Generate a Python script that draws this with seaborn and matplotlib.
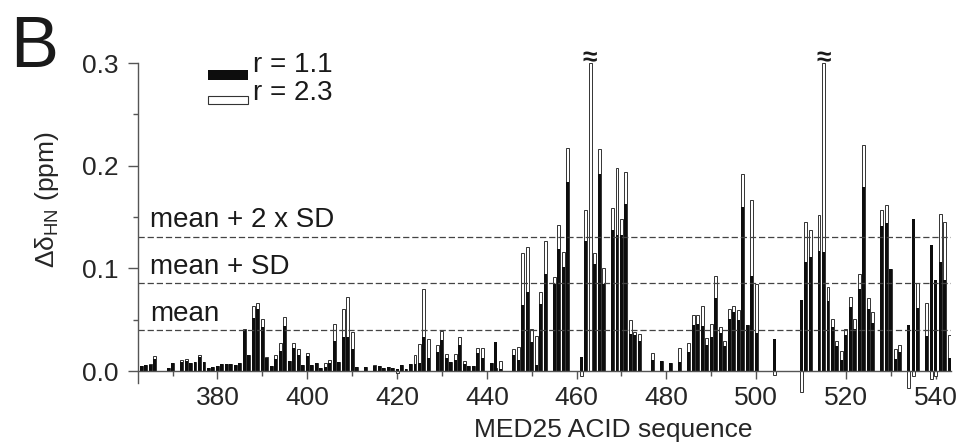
import numpy as np
import pandas as pd
import matplotlib
matplotlib.use("Agg")
import matplotlib.pyplot as plt
from matplotlib.ticker import MultipleLocator, FormatStrFormatter
from matplotlib.patches import Rectangle
import seaborn as sns

nan = np.nan

# residues of the MED25 ACID construct
residues = np.arange(363, 544)

# chemical shift perturbation, r = 1.1 (black) and r = 2.3 (open)
r11 = [
    0.005, 0.006, 0.006, 0.012, nan, nan, 0.003, 0.008, nan, 0.009,
    0.010, 0.008, 0.009, 0.014, 0.009, 0.003, 0.004, 0.005, 0.007, 0.007,
    0.007, 0.006, 0.008, 0.040, 0.016, 0.052, 0.060, 0.043, 0.013, 0.005,
    0.012, 0.020, 0.044, 0.010, 0.022, 0.016, 0.006, 0.015, 0.006, 0.0075,
    0.003, 0.004, 0.0075, 0.029, 0.009, 0.033, 0.033, 0.021, 0.004, nan,
    0.004, nan, 0.005, 0.005, 0.003, 0.004, 0.003, 0.002, 0.006, 0.002,
    0.007, 0.007, 0.008, 0.033, 0.013, nan, 0.019, 0.030, 0.013, 0.009,
    0.011, 0.025, 0.007, 0.005, 0.005, 0.018, 0.013, nan, 0.008, 0.028,
    0.002, nan, nan, 0.016, 0.011, 0.064, 0.077, 0.028, 0.006, 0.065,
    0.095, nan, 0.085, 0.119, 0.101, 0.184, nan, nan, 0.014, 0.127,
    nan, 0.104, 0.192, 0.085, nan, 0.137, 0.133, 0.133, 0.163, 0.036,
    0.035, 0.029, nan, nan, 0.011, nan, 0.010, nan, 0.0075, nan,
    0.009, nan, 0.019, 0.045, 0.046, 0.044, 0.025, 0.033, 0.071, 0.037,
    0.024, 0.051, 0.058, 0.050, 0.160, 0.045, 0.093, 0.037, nan, nan,
    nan, 0.031, nan, nan, nan, nan, nan, 0.069, 0.106, 0.111,
    nan, 0.117, 0.116, 0.068, 0.043, 0.024, 0.011, 0.035, 0.062, 0.041,
    0.080, 0.179, 0.060, 0.047, nan, 0.141, 0.144, 0.099, 0.012, 0.019,
    nan, 0.045, 0.148, 0.061, nan, 0.034, 0.123, 0.089, 0.106, 0.089, 0.013,
]
r23 = [
    0.005, 0.006, 0.007, 0.015, nan, nan, 0.003, 0.008, nan, 0.011,
    0.012, 0.008, 0.009, 0.016, 0.009, 0.003, 0.004, 0.005, 0.007, 0.007,
    0.007, 0.006, 0.008, 0.041, 0.016, 0.063, 0.066, 0.051, 0.014, 0.005,
    0.016, 0.027, 0.053, 0.010, 0.027, 0.021, 0.006, 0.018, 0.006, 0.0075,
    0.003, 0.008, 0.011, 0.046, 0.009, 0.060, 0.072, 0.038, 0.004, nan,
    0.004, nan, 0.006, 0.005, 0.003, 0.004, 0.003, -0.002, 0.006, 0.002,
    0.007, 0.016, 0.026, 0.080, 0.031, nan, 0.025, 0.039, 0.017, 0.009,
    0.017, 0.033, 0.010, 0.005, 0.005, 0.022, 0.022, nan, 0.008, 0.003,
    0.010, nan, nan, 0.021, 0.023, 0.115, 0.121, 0.041, 0.034, 0.077,
    0.127, nan, 0.092, 0.142, 0.116, 0.217, nan, nan, -0.005, 0.157,
    0.300, 0.115, 0.216, 0.100, nan, 0.159, 0.198, 0.148, 0.194, 0.050,
    0.038, 0.036, nan, nan, 0.018, nan, 0.010, nan, 0.0075, nan,
    0.022, nan, 0.027, 0.055, 0.055, 0.063, 0.032, 0.046, 0.093, 0.043,
    0.029, 0.060, 0.063, 0.059, 0.192, 0.045, 0.167, 0.085, nan, nan,
    nan, -0.004, nan, nan, nan, nan, nan, -0.020, 0.145, 0.137,
    nan, 0.152, 0.300, 0.082, 0.051, 0.029, 0.020, 0.041, 0.072, 0.051,
    0.095, 0.220, 0.071, 0.058, nan, 0.157, 0.162, 0.099, 0.021, 0.025,
    nan, -0.017, -0.005, 0.086, nan, 0.066, -0.008, -0.005, 0.153, 0.145, 0.035,
]

# residues whose r = 2.3 shift runs off the scale
broken = [463, 515]

# threshold lines
mean_csp = 0.040
sd_csp = 0.0455
thresholds = [mean_csp, mean_csp + sd_csp, mean_csp + 2 * sd_csp]
threshold_labels = ["mean", "mean + SD", "mean + 2 x SD"]

# ---------------------------------------------------------------------------

sns.set_theme(style="white")
plt.rcParams["font.family"] = ["Liberation Sans", "DejaVu Sans"]
plt.rcParams["mathtext.fontset"] = "custom"
plt.rcParams["mathtext.rm"] = "Liberation Sans"
plt.rcParams["text.color"] = "#1a1a1a"

FS = 19       # tick labels / axis labels
FS_TXT = 20   # annotations and legend
AX_COL = "#555555"

df = pd.DataFrame({"residue": residues, "r11": r11, "r23": r23})
d23 = df.dropna(subset=["r23"])
d11 = df.dropna(subset=["r11"])

fig = plt.figure(figsize=(9.68, 4.48), dpi=100)
ax = fig.add_axes([138 / 968, 0.1145, 813 / 968, 0.7449])

sns.barplot(data=d23, x="residue", y="r23", native_scale=True, width=0.66,
            color="white", saturation=1, edgecolor="#333333", linewidth=0.7,
            errorbar=None, ax=ax)
sns.barplot(data=d11, x="residue", y="r11", native_scale=True, width=0.66,
            color="#0d0d0d", saturation=1, linewidth=0,
            errorbar=None, ax=ax)

ax.set_xlim(362.3, 543.4)
ax.set_ylim(-0.025, 0.3001)

# threshold lines + labels
ytrans = ax.get_yaxis_transform()
for val, lab in zip(thresholds, threshold_labels):
    ax.axhline(val, color="#444444", lw=0.9, dashes=(5, 2.3), zorder=1)
    ax.text(0.0148, val + 0.009, lab, transform=ytrans, fontsize=FS_TXT,
            va="baseline", ha="left")

# break marks over clipped bars
for res in broken:
    ax.text(res, 0.3045, "≈", fontsize=19, fontweight="bold",
            ha="center", va="center", clip_on=False)

# axes styling
for s in ["top", "right"]:
    ax.spines[s].set_visible(False)
ax.spines["bottom"].set_position(("data", 0))
ax.spines["left"].set_bounds(-0.012, 0.3)
for s in ["bottom", "left"]:
    ax.spines[s].set_color(AX_COL)
    ax.spines[s].set_linewidth(1.0)

ax.xaxis.set_major_locator(MultipleLocator(20))
ax.xaxis.set_minor_locator(MultipleLocator(10))
ax.yaxis.set_major_locator(MultipleLocator(0.1))
ax.yaxis.set_minor_locator(MultipleLocator(0.05))
ax.yaxis.set_major_formatter(FormatStrFormatter("%.1f"))

ax.tick_params(axis="x", which="major", direction="out", length=6, width=1,
               color=AX_COL, labelsize=FS, pad=5, bottom=True)
ax.tick_params(axis="x", which="minor", direction="out", length=3.5, width=1,
               color=AX_COL, bottom=True)
ax.tick_params(axis="y", which="major", direction="out", length=7, width=1,
               color=AX_COL, labelsize=FS, pad=7, left=True)
ax.tick_params(axis="y", which="minor", direction="out", length=3.6, width=1,
               color=AX_COL, left=True)

ax.set_xlabel("MED25 ACID sequence", fontsize=FS)
ax.xaxis.set_label_coords(0.584, -0.10)
ax.xaxis.label.set_verticalalignment("center")
ax.set_ylabel("Δδ$_{\\mathrm{HN}}$ (ppm)", fontsize=FS)
ax.yaxis.set_label_coords(-0.112, 0.589)
ax.yaxis.label.set_verticalalignment("center")

# legend, drawn by hand
fig.patches.append(Rectangle((208 / 968, 0.8214), 40 / 968, 0.0223,
                             transform=fig.transFigure, facecolor="#0d0d0d",
                             edgecolor="none"))
fig.patches.append(Rectangle((208 / 968, 0.7679), 40 / 968, 0.018,
                             transform=fig.transFigure, facecolor="white",
                             edgecolor="#333333", linewidth=0.8))
fig.text(253 / 968, 0.839, "r = 1.1", fontsize=FS_TXT, va="baseline")
fig.text(253 / 968, 0.777, "r = 2.3", fontsize=FS_TXT, va="baseline")

# panel letter
fig.text(0.0103, 0.850, "B", fontsize=52, va="baseline")

fig.savefig("out.png", dpi=100)
